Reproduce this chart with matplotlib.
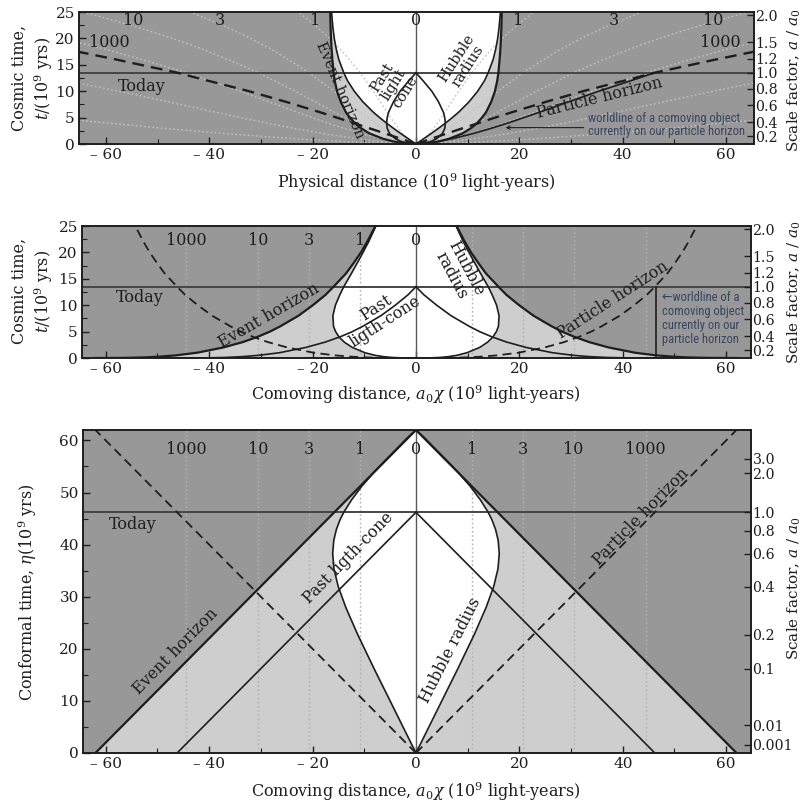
import numpy as np
import matplotlib
matplotlib.use("Agg")
import matplotlib.pyplot as plt
from matplotlib import font_manager

plt.rcParams['font.family'] = ['DejaVu Serif']
plt.rcParams['mathtext.fontset'] = 'dejavuserif'

DARK = '#989898'
LIGHT = '#cecece'
INK = '#1e1e1e'
DOT = '#c2c2c2'
DOT2 = '#b2b2b2'
NOTE = '#3a4460'

# ---- data ----------------------------------------------------------------
# cosmic time samples (10^9 yr) used by the top two panels
t = [0, 0.02, 0.1, 0.25, 0.5, 1, 2, 3, 4, 5, 6, 8, 10, 12, 13.5, 16, 18, 20, 22, 25]
t_today = 13.5

# panel 1: physical distance (10^9 ly)
phys_event = [0, 0.63, 1.73, 2.98, 4.43, 6.39, 8.98, 10.64, 11.86, 12.77, 13.55,
              14.56, 15.28, 15.72, 15.95, 16.18, 16.33, 16.44, 16.52, 16.6]
phys_hubble = [0, 0.03, 0.15, 0.38, 0.75, 1.49, 2.97, 4.39, 5.76, 7.03, 8.23,
               10.28, 11.94, 13.26, 13.97, 14.93, 15.43, 15.81, 16.07, 16.34]
phys_particle = [0, 0.06, 0.30, 0.75, 1.50, 2.99, 6.0, 9.07, 12.19, 15.32, 18.52,
                 25.2, 32.3, 40.3, 46.2, 58.0, 68.0]
phys_lightcone = [0, 0.45, 1.21, 2.02, 2.91, 3.99, 5.13, 5.58, 5.69, 5.56, 5.31,
                  4.35, 3.06, 1.35, 0]
phys_edge_obj = [0, 0.51, 1.51, 2.77, 4.40, 6.98, 11.13, 14.65, 17.88, 20.88,
                 23.84, 29.57, 35.39, 41.63, 46.2]
phys_z1 = [0, 0.12, 0.35, 0.65, 1.03, 1.63, 2.60, 3.42, 4.18, 4.88, 5.57, 6.91,
           8.27, 9.73, 10.8, 12.9, 14.67, 16.68, 18.93, 22.77]
phys_z3 = [0, 0.23, 0.67, 1.24, 1.97, 3.13, 4.99, 6.56, 8.01, 9.36, 10.68, 13.25,
           15.86, 18.65, 20.7, 24.72, 28.11, 31.96, 36.29, 43.64]
phys_z10 = [0, 0.34, 0.99, 1.83, 2.91, 4.61, 7.35, 9.67, 11.80, 13.79, 15.74,
            19.52, 23.36, 27.48, 30.5, 36.42, 41.42, 47.09, 53.47, 64.29]
phys_z1000 = [0, 0.49, 1.45, 2.66, 4.23, 6.70, 10.70, 14.07, 17.18, 20.07, 22.91,
              28.42, 34.01, 40.0, 44.4, 53.01, 60.30, 68.55]
phys_far1 = [0, 0.83, 2.45, 4.5, 7.15, 11.3, 18.1, 23.8, 29.0, 33.9, 38.7, 48.0,
             57.5, 67.6]
phys_far2 = [0, 1.72, 5.05, 9.3, 14.8, 23.4, 37.4, 49.1, 60.0, 70.1]

# panel 2: comoving distance (10^9 ly)
com_event = [62.15, 56.8, 52.95, 49.65, 46.45, 42.35, 37.25, 33.55, 30.65, 28.25,
             26.25, 22.75, 19.95, 17.45, 15.95, 13.55, 12.05, 10.65, 9.45, 7.85]
com_hubble = [0, 2.69, 4.6, 6.25, 7.87, 9.87, 12.32, 13.86, 14.89, 15.55, 15.95,
              16.07, 15.59, 14.72, 13.97, 12.5, 11.36, 10.24, 9.17, 7.75]
com_particle = [0, 5.4, 9.2, 12.5, 15.7, 19.8, 24.9, 28.6, 31.5, 33.9, 35.9, 39.4,
                42.2, 44.7, 46.2, 48.6, 50.1, 51.5, 52.7, 54.3]
com_lightcone = [46.2, 40.8, 37.0, 33.7, 30.5, 26.4, 21.3, 17.6, 14.7, 12.3, 10.3,
                 6.8, 4.0, 1.5, 0]
com_edge_obj = 46.4

# panel 3: conformal time (10^9 yr)
eta_today = 46.2
eta_end = 62.0
eta_hubble = [0, 5.1, 11.4, 16.1, 22.8, 27.9, 32.0, 35.4, 38.3, 40.8, 42.9, 44.7,
              46.2, 48.6, 51.2, 53.9, 56.6, 58.8, 60.5, 62.0]
conf_hubble = [0, 2.55, 5.70, 8.06, 11.30, 13.55, 15.05, 15.87, 16.11, 15.90,
               15.40, 14.72, 13.97, 12.45, 10.49, 8.13, 5.52, 3.33, 1.67, 0]
conf_event_base = 62.0
conf_cone_base = 46.2

# redshift of comoving worldlines
z_labels = ['1', '3', '10', '1000']
z_chi = [10.8, 20.7, 30.5, 44.4]

# right-hand scale factor axes
a_labels = ['2.0', '1.5', '1.2', '1.0', '0.8', '0.6', '0.4', '0.2']
a_at_t = [24.4, 19.3, 16.1, 13.5, 10.5, 7.3, 4.1, 1.5]
a_labels_conf = ['3.0', '2.0', '1.0', '0.8', '0.6', '0.4', '0.2', '0.1', '0.01', '0.001']
a_at_eta = [56.5, 53.7, 46.2, 42.7, 38.2, 31.9, 22.7, 16.2, 5.3, 1.6]

x_ticks = [-60, -40, -20, 0, 20, 40, 60]
x_ticklabels = ['\u2013 60', '\u2013 40', '\u2013 20', '0', '20', '40', '60']

# ---- fonts -----------------------------------------------------------------
have = {f.name for f in font_manager.fontManager.ttflist}
cond = next((n for n in ['Roboto Condensed', 'Liberation Sans Narrow', 'Open Sans Condensed']
             if n in have), None)
if cond:
    note_kw = dict(family=[cond, 'DejaVu Sans'], fontsize=9, color=NOTE)
else:
    note_kw = dict(family=['DejaVu Sans'], fontstretch='condensed', fontsize=7, color=NOTE)

FS = 11        # left / bottom tick labels
RFS = 10.2     # right (scale factor) tick labels
LFS = 11.5     # axis titles
W, H = 805, 807
fig = plt.figure(figsize=(W / 100, H / 100), dpi=100)


def px_axes(l, r, top, bot):
    return fig.add_axes([l / W, 1 - bot / H, (r - l) / W, (bot - top) / H])


def mirror(ax, xs, ys, **kw):
    xs = np.asarray(xs)
    ax.plot(xs, ys, **kw)
    ax.plot(-xs, ys, **kw)


def style(ax, ylim, ymajor, yminor, a_pos, a_lab):
    ax.set_facecolor(DARK)
    ax.set_ylim(*ylim)
    ax.set_xticks(x_ticks)
    ax.set_xticklabels(x_ticklabels)
    ax.set_xticks([-50, -30, -10, 10, 30, 50], minor=True)
    ax.set_yticks(ymajor)
    ax.set_yticks(yminor, minor=True)
    ax.tick_params(which='both', direction='in', labelsize=FS, colors=INK, pad=3)
    ax.tick_params(which='major', length=5, width=1)
    ax.tick_params(which='minor', length=3.5, width=0.8)
    ax.tick_params(axis='x', which='both', top=False)
    for s in ax.spines.values():
        s.set_linewidth(1.4)
        s.set_color(INK)
    ax2 = ax.twinx()
    ax2.set_ylim(*ylim)
    ax2.set_yticks(a_pos)
    ax2.set_yticklabels(a_lab)
    ax2.tick_params(direction='in', length=5, width=1, labelsize=RFS, colors=INK, pad=1)
    for s in ax2.spines.values():
        s.set_visible(False)
    return ax2


def ftext(x, y, s, rot=0, size=LFS, **kw):
    fig.text(x / W, 1 - y / H, s, rotation=rot, ha='center', va='center',
             fontsize=size, color=INK, linespacing=1.3, **kw)


def lab(ax, x, y, s, size=11.5, rot=0, **extra):
    ax.text(x, y, s, ha='center', va='center', fontsize=size, color=INK,
            rotation=rot, rotation_mode='anchor', zorder=5, **extra)


# ---- panel 1: physical distance vs cosmic time -----------------------------
ax1 = px_axes(79, 754, 12, 144)
ax1.set_xlim(-65.2, 65.4)
style(ax1, (0, 25), [0, 5, 10, 15, 20, 25], [2.5, 7.5, 12.5, 17.5, 22.5], a_at_t, a_labels)
ax1.fill_betweenx(t, -np.array(phys_event), phys_event, color=LIGHT, lw=0, zorder=1)
ax1.fill_betweenx(t, -np.array(phys_hubble), phys_hubble, color='white', lw=0, zorder=1.1)
for xs in [phys_z1, phys_z3, phys_z10, phys_z1000, phys_far1, phys_far2]:
    mirror(ax1, xs, t[:len(xs)], color=DOT, lw=1.0, ls=(0, (1.2, 1.8)), zorder=2)
ax1.axvline(0, color='#5a5a5a', lw=1.0, zorder=2.5)
ax1.axhline(t_today, color='#454545', lw=1.4, zorder=2.5)
mirror(ax1, phys_event, t, color=INK, lw=1.6, zorder=3)
mirror(ax1, phys_hubble, t, color=INK, lw=1.2, zorder=3)
mirror(ax1, phys_lightcone, t[:len(phys_lightcone)], color=INK, lw=1.2, zorder=3)
mirror(ax1, phys_particle, t[:len(phys_particle)], color=INK, lw=1.7,
       dashes=(5, 3), zorder=3)
ax1.plot(phys_edge_obj, t[:len(phys_edge_obj)], color=INK, lw=1.2, zorder=3)

for s, x in [('10', -54.7), ('3', -37.9), ('1', -19.5), ('0', 0), ('1', 19.8),
             ('3', 38.2), ('10', 57.5)]:
    lab(ax1, x, 23.4, s)
lab(ax1, -59.4, 19.2, '1000')
lab(ax1, 58.8, 19.2, '1000')
lab(ax1, -53, 10.8, 'Today')
lab(ax1, -14.7, 10.2, 'Event horizon', size=10.5, rot=-67)
lab(ax1, -4.3, 11.2, 'Past\nlight\ncone', size=10.5, rot=58, linespacing=0.95)
lab(ax1, 9.0, 15.5, 'Hubble\nradius', size=10.5, rot=57, linespacing=0.95)
lab(ax1, 35.5, 8.7, 'Particle horizon', size=11.5, rot=14)
ax1.annotate('', xy=(16.8, 3.1), xytext=(33.0, 3.1),
             arrowprops=dict(arrowstyle='->', color=INK, lw=0.8, mutation_scale=6),
             zorder=5)
ax1.text(33.3, 3.6, 'worldline of a comoving object\ncurrently on our particle horizon',
         ha='left', va='center', linespacing=1.05, zorder=5, **note_kw)

ftext(416, 183, 'Physical distance (10$^9$ light-years)')
ftext(33, 78, 'Cosmic time,\n$t$/(10$^9$ yrs)', rot=90)
ftext(794, 80, 'Scale factor, $a$ / $a_0$', rot=90, size=11)

# ---- panel 2: comoving distance vs cosmic time -----------------------------
ax2 = px_axes(82, 751, 226, 358)
ax2.set_xlim(-64.6, 64.8)
style(ax2, (0, 25), [0, 5, 10, 15, 20, 25], [2.5, 7.5, 12.5, 17.5, 22.5], a_at_t, a_labels)
ax2.fill_betweenx(t, -np.array(com_event), com_event, color=LIGHT, lw=0, zorder=1)
ax2.fill_betweenx(t, -np.array(com_hubble), com_hubble, color='white', lw=0, zorder=1.1)
for c in z_chi:
    for s in (-1, 1):
        ax2.axvline(s * c, color=DOT2, lw=1.0, ls=(0, (1.2, 1.8)), zorder=2)
ax2.axvline(0, color='#5a5a5a', lw=1.0, zorder=2.5)
ax2.axhline(t_today, color='#454545', lw=1.4, zorder=2.5)
mirror(ax2, com_event, t, color=INK, lw=1.6, zorder=3)
mirror(ax2, com_hubble, t, color=INK, lw=1.2, zorder=3)
mirror(ax2, com_lightcone, t[:len(com_lightcone)], color=INK, lw=1.2, zorder=3)
mirror(ax2, com_particle, t, color=INK, lw=1.3, dashes=(5, 3), zorder=3)
ax2.plot([com_edge_obj, com_edge_obj], [0, t_today], color=INK, lw=1.2, zorder=3)

lab(ax2, 0, 22.2, '0')
for s, c in zip(z_labels, z_chi):
    lab(ax2, -c, 22.2, s)
lab(ax2, -53.4, 11.4, 'Today')
lab(ax2, -28.5, 8.0, 'Event horizon', rot=30)
lab(ax2, -6.8, 8.2, 'Past\nligth-cone', rot=33, linespacing=0.95)
lab(ax2, 8.3, 16.3, 'Hubble\nradius', rot=-62, linespacing=0.95)
lab(ax2, 38.0, 11.0, 'Particle horizon', rot=33)
ax2.text(47.6, 7.4, '\u2190worldline of a\ncomoving object\ncurrently on our\nparticle horizon',
         ha='left', va='center', linespacing=1.1, zorder=5, **note_kw)

ftext(416, 395, 'Comoving distance, $a_0\\chi$ (10$^9$ light-years)')
ftext(33, 291, 'Cosmic time,\n$t$/(10$^9$ yrs)', rot=90)
ftext(794, 292, 'Scale factor, $a$ / $a_0$', rot=90, size=11)

# ---- panel 3: comoving distance vs conformal time --------------------------
ax3 = px_axes(83, 751, 430, 753)
ax3.set_xlim(-64.4, 64.8)
style(ax3, (0, 62), [0, 10, 20, 30, 40, 50, 60], [5, 15, 25, 35, 45, 55],
      a_at_eta, a_labels_conf)
ax3.fill_betweenx([0, eta_end], [-conf_event_base, 0], [conf_event_base, 0],
                  color=LIGHT, lw=0, zorder=1)
ax3.fill_betweenx(eta_hubble, -np.array(conf_hubble), conf_hubble, color='white',
                  lw=0, zorder=1.1)
for c in z_chi:
    for s in (-1, 1):
        ax3.axvline(s * c, color=DOT2, lw=1.0, ls=(0, (1.2, 1.8)), zorder=2)
ax3.axvline(0, color='#5a5a5a', lw=1.0, zorder=2.5)
ax3.axhline(eta_today, color='#454545', lw=1.4, zorder=2.5)
mirror(ax3, [conf_event_base, 0], [0, eta_end], color=INK, lw=1.6, zorder=3)
mirror(ax3, [conf_cone_base, 0], [0, eta_today], color=INK, lw=1.2, zorder=3)
mirror(ax3, conf_hubble, eta_hubble, color=INK, lw=1.2, zorder=3)
mirror(ax3, [0, eta_end], [0, eta_end], color=INK, lw=1.3, dashes=(5, 3), zorder=3)

lab(ax3, 0, 58.3, '0')
for s, c in zip(z_labels, z_chi):
    lab(ax3, -c, 58.3, s)
    lab(ax3, c, 58.3, s)
lab(ax3, -54.7, 43.8, 'Today')
lab(ax3, -46.5, 19.5, 'Event horizon', rot=45.5)
lab(ax3, -13.0, 37.5, 'Past ligth-cone', rot=45.5)
lab(ax3, 6.6, 19.7, 'Hubble radius', rot=63)
lab(ax3, 43.5, 45.3, 'Particle horizon', rot=45.5)

ftext(416, 792, 'Comoving distance, $a_0\\chi$ (10$^9$ light-years)')
ftext(28, 592, 'Conformal time, $\\eta$(10$^9$ yrs)', rot=90)
ftext(794, 588, 'Scale factor, $a$ / $a_0$', rot=90, size=11)

fig.savefig('out.png', dpi=100)
